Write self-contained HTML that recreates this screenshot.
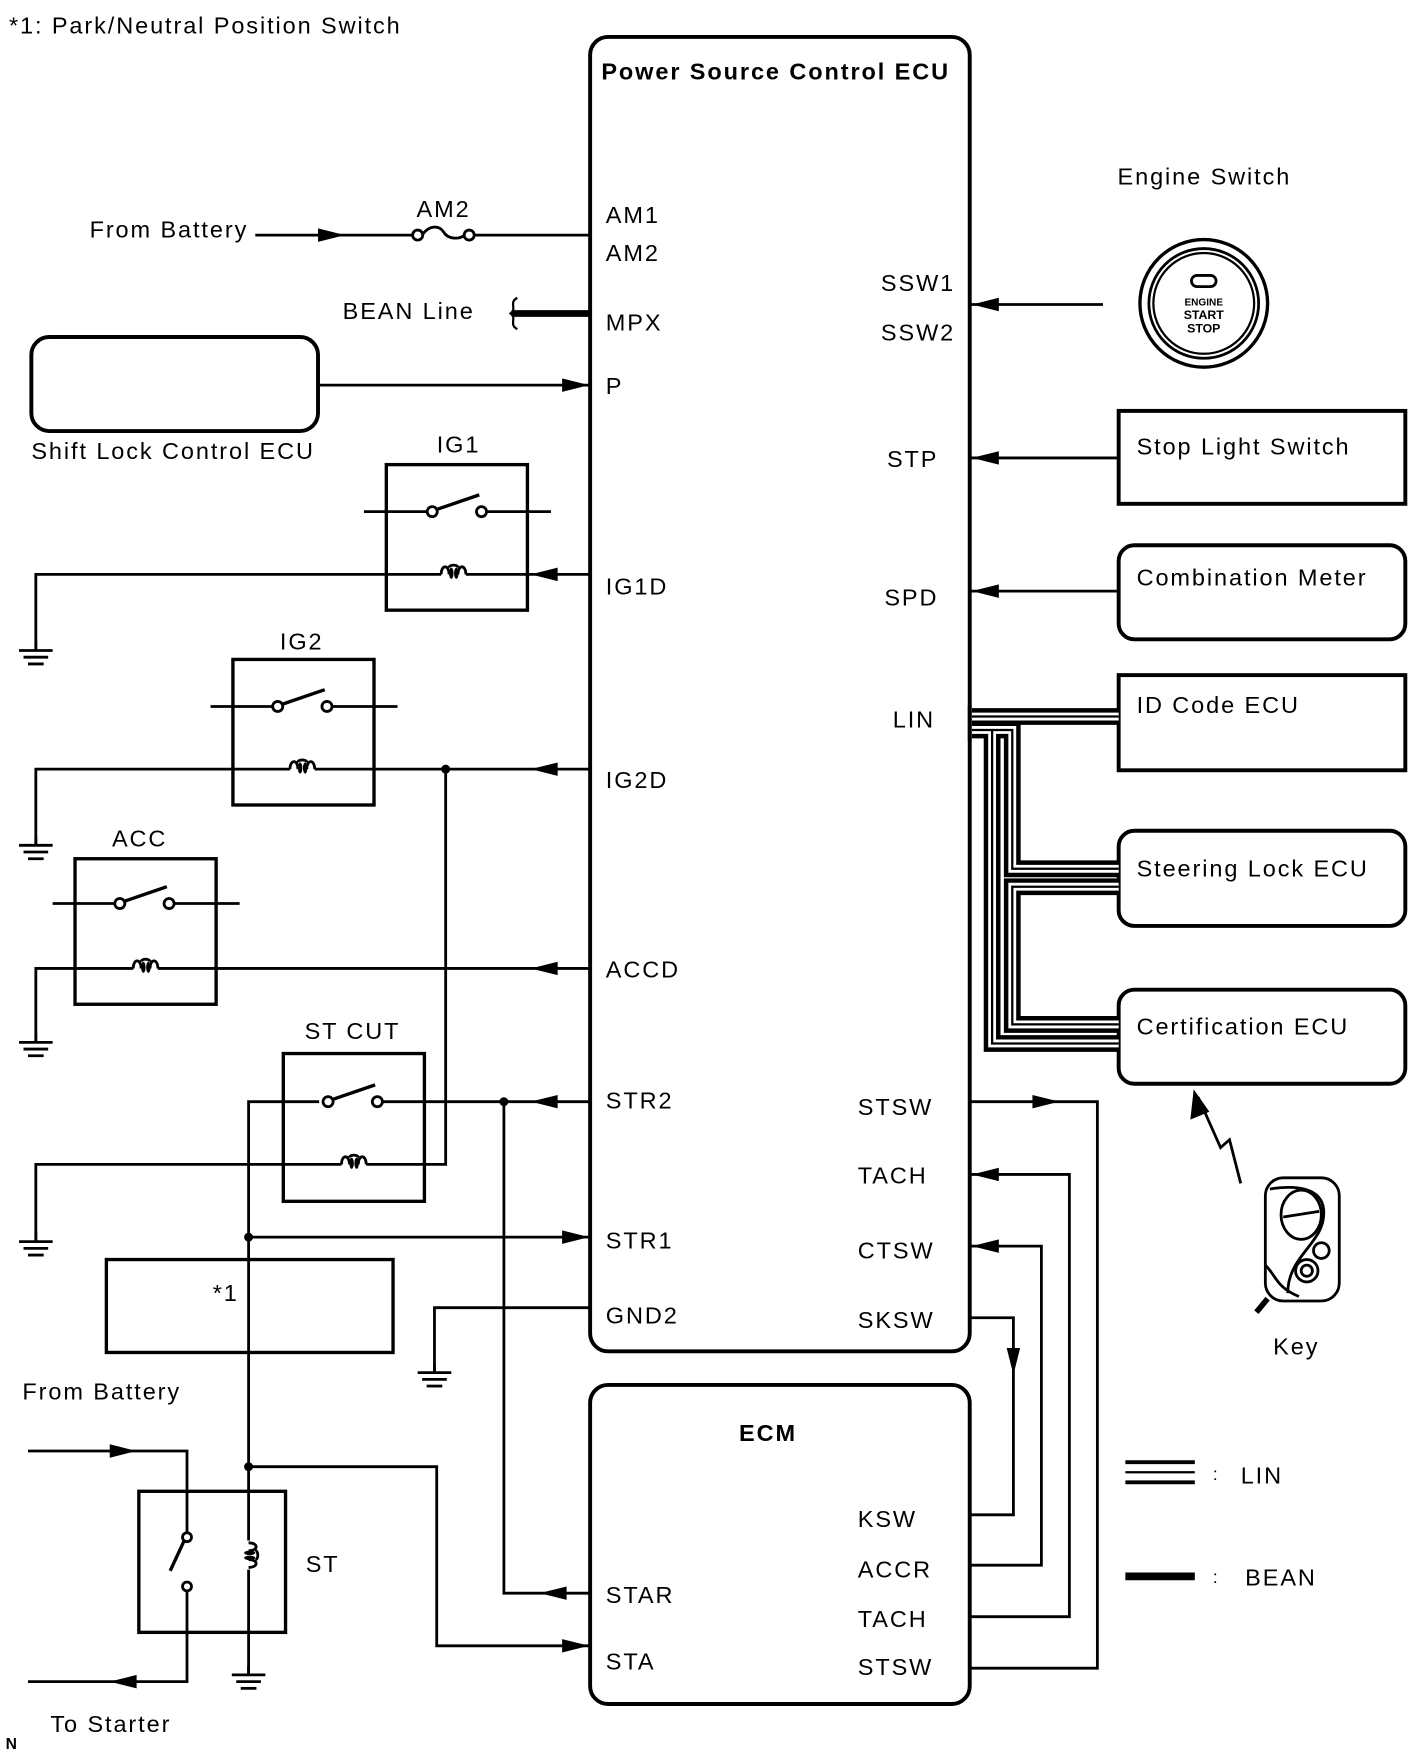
<!DOCTYPE html>
<html><head><meta charset="utf-8"><style>
html,body{margin:0;padding:0;background:#fff;}
svg{display:block;}
text{font-family:"Liberation Sans",Arial,sans-serif;font-size:21px;fill:#000;letter-spacing:1.7px;}
.b{font-weight:bold;}
</style></head><body>
<svg width="1421" height="1760" viewBox="0 0 1269 1572" preserveAspectRatio="none" xmlns="http://www.w3.org/2000/svg">
<defs>
<g id="gnd"><line x1="0" y1="0" x2="0" y2="8" stroke="#000" stroke-width="2.5"/><line x1="-15" y1="8" x2="15" y2="8" stroke="#000" stroke-width="2.5"/><line x1="-11" y1="14" x2="11" y2="14" stroke="#000" stroke-width="2.5"/><line x1="-7" y1="20" x2="7" y2="20" stroke="#000" stroke-width="2.5"/></g>
<g id="aR"><polygon points="0,0 -24,-6 -24,6" fill="#000"/></g>
<g id="aL"><polygon points="0,0 24,-6 24,6" fill="#000"/></g>
<g id="sw"><circle cx="0" cy="0" r="4.5" fill="#fff" stroke="#000" stroke-width="2.5"/><circle cx="44" cy="0" r="4.5" fill="#fff" stroke="#000" stroke-width="2.5"/><line x1="4" y1="-2" x2="42" y2="-15" stroke="#000" stroke-width="3"/></g>
<g id="coil"><path d="M-11 0 C-11 -9 -4 -9 -4 0 M-4 -6 C-4 -9 4 -9 4 -6 M4 0 C4 -9 11 -9 11 0" fill="none" stroke="#000" stroke-width="2.5"/><ellipse cx="-2" cy="-1" rx="2" ry="5" fill="#000"/><ellipse cx="2.5" cy="-1" rx="2" ry="5" fill="#000"/></g>
</defs>
<g stroke="#000" fill="none" stroke-width="2.5">
<rect x="527" y="33" width="339" height="1174" rx="16" stroke-width="3.5"/>
<rect x="527" y="1237" width="339" height="285" rx="16" stroke-width="3.5"/>
<rect x="28" y="301" width="256" height="84" rx="16" stroke-width="3.5"/>
<rect x="95" y="1125" width="256" height="83" stroke-width="3"/>
<rect x="999" y="367" width="256" height="83" stroke-width="3.5"/>
<rect x="999" y="487" width="256" height="84" rx="14" stroke-width="3.5"/>
<rect x="999" y="603" width="256" height="85" stroke-width="3.5"/>
<rect x="999" y="742" width="256" height="85" rx="14" stroke-width="3.5"/>
<rect x="999" y="884" width="256" height="84" rx="14" stroke-width="3.5"/>
<rect x="345" y="415" width="126" height="130" stroke-width="3"/>
<rect x="208" y="589" width="126" height="130" stroke-width="3"/>
<rect x="67" y="767" width="126" height="130" stroke-width="3"/>
<rect x="253" y="941" width="126" height="132" stroke-width="3"/>
<rect x="124" y="1332" width="131" height="126" stroke-width="3"/>
<line x1="228" y1="210" x2="369" y2="210"/>
<line x1="423" y1="210" x2="527" y2="210"/>
<path d="M377 210 C383 201 392 201 396 207 C400 214 410 214 415 210"/>
<circle cx="373" cy="210" r="4.5" fill="#fff"/><circle cx="419" cy="210" r="4.5" fill="#fff"/>
<line x1="457" y1="280" x2="527" y2="280" stroke-width="6"/>
<path d="M462 266 C454 270 462 276 456 280 C462 284 454 290 462 294" stroke-width="2"/>
<line x1="285" y1="344" x2="527" y2="344"/>
<line x1="325" y1="457" x2="382" y2="457"/><line x1="434" y1="457" x2="492" y2="457"/>
<path d="M32 580 V513 H394 M416 513 H527"/>
<line x1="188" y1="631" x2="244" y2="631"/><line x1="297" y1="631" x2="355" y2="631"/>
<path d="M32 754 V687 H259 M281 687 H527"/>
<path d="M398 687 V1040 H327"/>
<line x1="47" y1="807" x2="103" y2="807"/><line x1="156" y1="807" x2="214" y2="807"/>
<path d="M32 930 V865 H119 M141 865 H527"/>
<path d="M222 1310 V984 H285 M341 984 H527"/>
<path d="M32 1108 V1040 H305"/>
<line x1="222" y1="1105" x2="527" y2="1105"/>
<path d="M450 984 V1423 H527"/>
<path d="M527 1168 H388 V1225"/>
<path d="M25 1296 H167 V1369"/>
<path d="M167 1421 V1502 H25"/>
<line x1="165" y1="1375" x2="152" y2="1403" stroke-width="3"/>
<path d="M222 1310 V1376 M222 1402 V1495"/>
<path d="M222 1310 H390 V1470 H527"/>
<line x1="985" y1="272" x2="866" y2="272"/>
<line x1="999" y1="409" x2="866" y2="409"/>
<line x1="999" y1="528" x2="866" y2="528"/>
<path d="M866 984 H980 V1490 H866"/>
<path d="M866 1049 H955 V1444 H866"/>
<path d="M866 1113 H930 V1398 H866"/>
<path d="M866 1177 H905 V1353 H866"/>
<path d="M1070 980 L1090 1025 L1098 1018 L1108 1057"/>
</g>
<g transform="translate(222,1389) rotate(90)"><use href="#coil"/></g>
<circle cx="167" cy="1373" r="4" fill="#fff" stroke="#000" stroke-width="2.5"/>
<circle cx="167" cy="1417" r="4" fill="#fff" stroke="#000" stroke-width="2.5"/>
<g fill="none" stroke-linejoin="miter">
<g stroke="#000" stroke-width="15">
<path d="M868 640 H999"/><path d="M868 652 H886 V932 H999"/><path d="M886 652 H904 V776 H999"/><path d="M999 792 H904 V915 H999"/>
</g>
<g stroke="#fff" stroke-width="7">
<path d="M868 640 H999"/><path d="M868 652 H886 V932 H999"/><path d="M886 652 H904 V776 H999"/><path d="M999 792 H904 V915 H999"/>
</g>
<g stroke="#000" stroke-width="2">
<path d="M868 640 H999"/><path d="M868 652 H886 V932 H999"/><path d="M886 652 H904 V776 H999"/><path d="M999 792 H904 V915 H999"/>
</g>
</g>
<line x1="866" y1="630" x2="866" y2="662" stroke="#000" stroke-width="3.5"/>
<use href="#sw" x="386" y="457"/><use href="#coil" x="405" y="513"/>
<use href="#sw" x="248" y="631"/><use href="#coil" x="270" y="687"/>
<use href="#sw" x="107" y="807"/><use href="#coil" x="130" y="865"/>
<use href="#sw" x="293" y="984"/><use href="#coil" x="316" y="1040"/>
<circle cx="398" cy="687" r="4" fill="#000"/>
<circle cx="450" cy="984" r="4" fill="#000"/>
<circle cx="222" cy="1105" r="4" fill="#000"/>
<circle cx="222" cy="1310" r="4" fill="#000"/>
<use href="#aR" x="308" y="210"/>
<use href="#aR" x="526" y="344"/>
<use href="#aL" x="474" y="513"/>
<use href="#aL" x="474" y="687"/>
<use href="#aL" x="474" y="865"/>
<use href="#aL" x="474" y="984"/>
<use href="#aR" x="526" y="1105"/>
<use href="#aR" x="526" y="1470"/>
<use href="#aL" x="482" y="1423"/>
<use href="#aR" x="122" y="1296"/>
<use href="#aL" x="98" y="1502"/>
<use href="#aL" x="868" y="272"/>
<use href="#aL" x="868" y="409"/>
<use href="#aL" x="868" y="528"/>
<use href="#aR" x="946" y="984"/>
<use href="#aL" x="868" y="1049"/>
<use href="#aL" x="868" y="1113"/>
<polygon points="905,1228 899,1204 911,1204" fill="#000"/>
<polygon points="1066,973 1063,1000 1080,993" fill="#000"/>
<use href="#gnd" x="32" y="573"/>
<use href="#gnd" x="32" y="747"/>
<use href="#gnd" x="32" y="923"/>
<use href="#gnd" x="32" y="1101"/>
<use href="#gnd" x="388" y="1218"/>
<use href="#gnd" x="222" y="1488"/>
<g fill="none" stroke="#000">
<circle cx="1075" cy="271" r="57" stroke-width="3"/>
<circle cx="1075" cy="271" r="49" stroke-width="2.5"/>
<circle cx="1075" cy="271" r="45" stroke-width="2"/>
<rect x="1064" y="246" width="22" height="10" rx="5" stroke-width="2.5"/>
</g>
<text x="1075" y="273" text-anchor="middle" class="b" style="font-size:9px;letter-spacing:0">ENGINE</text>
<text x="1075" y="285" text-anchor="middle" class="b" style="font-size:11px;letter-spacing:0">START</text>
<text x="1075" y="297" text-anchor="middle" class="b" style="font-size:11px;letter-spacing:0">STOP</text>
<g fill="none" stroke="#000" stroke-width="2.5">
<rect x="1130" y="1052" width="66" height="110" rx="16"/>
<path d="M1134 1062 C1160 1058 1180 1062 1182 1080 C1185 1110 1150 1120 1150 1155"/>
<ellipse cx="1162" cy="1085" rx="18" ry="22"/>
<line x1="1146" y1="1087" x2="1178" y2="1082"/>
<circle cx="1180" cy="1117" r="7"/>
<circle cx="1167" cy="1135" r="10"/>
<circle cx="1167" cy="1135" r="5"/>
<path d="M1130 1130 C1140 1140 1140 1150 1160 1158"/>
</g>
<line x1="1122" y1="1172" x2="1132" y2="1160" stroke="#000" stroke-width="5"/>
<g stroke="#000">
<line x1="1005" y1="1306" x2="1067" y2="1306" stroke-width="3.5"/>
<line x1="1005" y1="1315" x2="1067" y2="1315" stroke-width="2"/>
<line x1="1005" y1="1324" x2="1067" y2="1324" stroke-width="3.5"/>
<line x1="1005" y1="1408" x2="1067" y2="1408" stroke-width="7"/>
</g>
<text x="8" y="30">*1: Park/Neutral Position Switch</text>
<text x="537" y="71" class="b">Power Source Control ECU</text>
<text x="541" y="199">AM1</text>
<text x="541" y="233">AM2</text>
<text x="541" y="295">MPX</text>
<text x="541" y="352">P</text>
<text x="541" y="531">IG1D</text>
<text x="541" y="704">IG2D</text>
<text x="541" y="873">ACCD</text>
<text x="541" y="990">STR2</text>
<text x="541" y="1115">STR1</text>
<text x="541" y="1182">GND2</text>
<text x="853" y="260" text-anchor="end">SSW1</text>
<text x="853" y="304" text-anchor="end">SSW2</text>
<text x="838" y="417" text-anchor="end">STP</text>
<text x="838" y="541" text-anchor="end">SPD</text>
<text x="835" y="650" text-anchor="end">LIN</text>
<text x="766" y="996">STSW</text>
<text x="766" y="1057">TACH</text>
<text x="766" y="1124">CTSW</text>
<text x="766" y="1186">SKSW</text>
<text x="660" y="1287" class="b">ECM</text>
<text x="766" y="1364">KSW</text>
<text x="766" y="1409">ACCR</text>
<text x="766" y="1453">TACH</text>
<text x="766" y="1496">STSW</text>
<text x="541" y="1432">STAR</text>
<text x="541" y="1491">STA</text>
<text x="80" y="212">From Battery</text>
<text x="372" y="194">AM2</text>
<text x="306" y="285">BEAN Line</text>
<text x="28" y="410">Shift Lock Control ECU</text>
<text x="390" y="404">IG1</text>
<text x="250" y="580">IG2</text>
<text x="100" y="756">ACC</text>
<text x="272" y="928">ST CUT</text>
<text x="190" y="1162">*1</text>
<text x="20" y="1250">From Battery</text>
<text x="273" y="1404">ST</text>
<text x="45" y="1547">To Starter</text>
<text x="998" y="165">Engine Switch</text>
<text x="1015" y="406">Stop Light Switch</text>
<text x="1015" y="523">Combination Meter</text>
<text x="1015" y="637">ID Code ECU</text>
<text x="1015" y="783">Steering Lock ECU</text>
<text x="1015" y="924">Certification ECU</text>
<text x="1137" y="1210">Key</text>
<text x="1083" y="1322" style="font-size:16px">:</text>
<text x="1108" y="1325">LIN</text>
<text x="1083" y="1414" style="font-size:16px">:</text>
<text x="1112" y="1416">BEAN</text>
<text x="5" y="1562" class="b" style="font-size:14px">N</text>
</svg>
</body></html>
